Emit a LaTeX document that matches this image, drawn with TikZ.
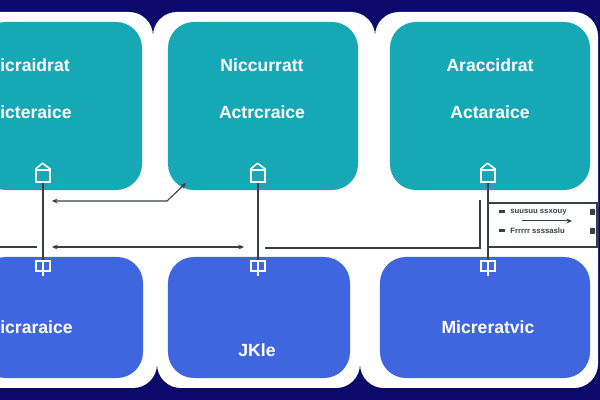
\documentclass[tikz,border=0pt]{standalone}
\usepackage{fontspec}
\setmainfont{Liberation Sans}
\usetikzlibrary{arrows.meta}

\definecolor{navybg}{HTML}{0B0A6B}
\definecolor{tealfill}{HTML}{17A8B5}
\definecolor{bluefill}{HTML}{3F66DF}
\definecolor{wire}{HTML}{3A3F45}

\begin{document}
\begin{tikzpicture}
        [x=0.025cm, y=-0.025cm,
        card/.style={fill=white, rounded corners=0.6cm},
        topbox/.style={fill=tealfill, rounded corners=0.65cm, inner sep=0pt},
        botbox/.style={fill=bluefill, rounded corners=0.65cm, inner sep=0pt},
        boxtext/.style={text=white, inner sep=0pt, font=\bfseries\fontsize{12.5}{14}\selectfont},
        port/.style={draw=white, line width=1.1pt, fill=tealfill, minimum width=0.34cm, minimum height=0.3cm, inner sep=0pt},
        plug/.style={draw=white, line width=1.1pt, fill=bluefill, minimum width=0.34cm, minimum height=0.26cm, inner sep=0pt},
        wireline/.style={draw=wire, line width=0.8pt},
        arrowed/.style={-{Stealth[length=4pt,width=3.5pt]}},
        twoway/.style={{Stealth[length=4pt,width=3.5pt]}-{Stealth[length=4pt,width=3.5pt]}},
        keybox/.style={draw=wire, line width=0.8pt, fill=white, inner sep=0pt},
        keytext/.style={text=wire, inner sep=0pt, font=\bfseries\fontsize{5.5}{6}\selectfont}]

        \useasboundingbox (0,0) rectangle (600,400);
        \clip (0,0) rectangle (600,400);

        % background and white cards
        \fill[navybg] (0,0) rectangle (600,400);
        \fill[card] (-40,12) rectangle (153,230);
        \fill[card] (153,12) rectangle (375,230);
        \fill[card] (375,12) rectangle (598,230);
        \fill[card] (-40,180) rectangle (157,388);
        \fill[card] (157,180) rectangle (360,388);
        \fill[card] (360,180) rectangle (598,388);

        % upper boxes
        \node[topbox, minimum width=4.05cm, minimum height=4.2cm] (ua) at (61,106) {};
        \node[topbox, minimum width=4.75cm, minimum height=4.2cm] (ub) at (263,106) {};
        \node[topbox, minimum width=5cm, minimum height=4.2cm] (uc) at (490,106) {};

        % lower boxes
        \node[botbox, minimum width=4.075cm, minimum height=3.025cm] (la) at (61.5,317.5) {};
        \node[botbox, minimum width=4.55cm, minimum height=3.025cm] (lb) at (259,317.5) {};
        \node[botbox, minimum width=5.25cm, minimum height=3.025cm] (lc) at (485,317.5) {};

        % box texts
        \node[boxtext, anchor=west] (ua1) at (0,65) {icraidrat};
        \node[boxtext, anchor=west] (ua2) at (0,112) {icteraice};
        \node[boxtext] (ub1) at (262,65) {Niccurratt};
        \node[boxtext] (ub2) at (262,112) {Actrcraice};
        \node[boxtext] (uc1) at (490,65) {Araccidrat};
        \node[boxtext] (uc2) at (490,112) {Actaraice};
        \node[boxtext, anchor=west] (la1) at (0,327) {icraraice};
        \node[boxtext] (lb1) at (257,350) {JKle};
        \node[boxtext] (lc1) at (488,327) {Micreratvic};

        % ports on the upper boxes
        \node[port] (pa) at (43,176) {};
        \node[port] (pb) at (258,176) {};
        \node[port] (pc) at (488,176) {};
        \foreach \p in {pa,pb,pc}
            \draw[white, line width=1.1pt, line join=round] (\p.north west) -- ++(7,-6) -- (\p.north east);

        % plugs on the lower boxes
        \node[plug] (qa) at (43,266) {};
        \node[plug] (qb) at (258,266) {};
        \node[plug] (qc) at (488,266) {};
        \foreach \q in {qa,qb,qc}
            \draw[white, line width=1.1pt] (\q.north) -- (\q.south) -- ++(0,4);

        % key
        \node[keybox, minimum width=2.725cm, minimum height=1.1cm] (key) at (542.5,225) {};
        \node[keytext, anchor=west] (key1) at (510,212) {suusuu ssxouy};
        \node[keytext, anchor=west] (key2) at (510,231) {Frrrrr ssssaslu};
        \fill[wire] (key1.west) ++(-11,-1.5) rectangle ++(6,3);
        \fill[wire] (key2.west) ++(-11,-1.5) rectangle ++(6,3);
        \fill[wire, rounded corners=0.5pt] (590,209) rectangle (595,215);
        \fill[wire, rounded corners=0.5pt] (590,228) rectangle (595,234);
        \coordinate (keyA) at (522,221);
        \coordinate (keyB) at (572,221);
        \draw[wire, double, line width=0.5pt, arrowed] (keyA) -- (keyB);

        % vertical links
        \draw[wireline] (pa) -- (qa);
        \draw[wireline] (pb) -- (qb);
        \draw[wireline] (pc) -- (qc);

        % feedback arrow
        \coordinate (fbA) at (52,201);
        \coordinate (fbB) at (167,201);
        \coordinate (fbC) at (186,183);
        \draw[wireline, twoway] (fbA) -- (fbB) -- (fbC);

        % bus line
        \coordinate (busL) at (0,247);
        \coordinate (busM) at (37,247);
        \coordinate (busA) at (52,247);
        \coordinate (busB) at (244,247);
        \coordinate (busC) at (265,248);
        \coordinate (busD) at (480,200);
        \draw[wireline] (busL) -- (busM);
        \draw[wireline, twoway] (busA) -- (busB);
        \draw[wireline] (busC) -| (busD);

        \end{tikzpicture}
\end{document}
